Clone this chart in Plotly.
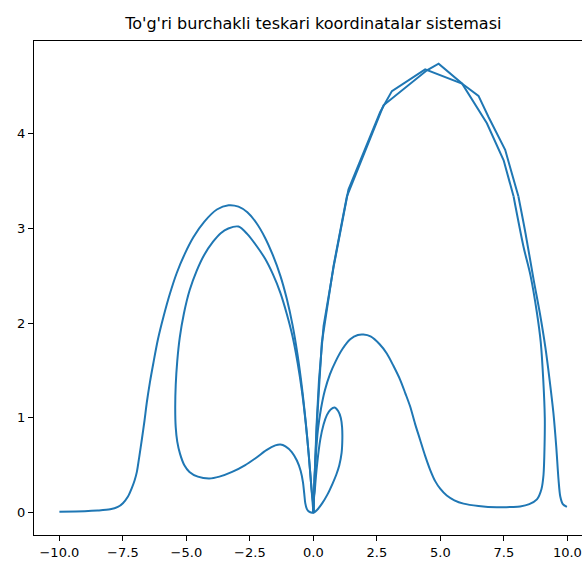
import plotly.graph_objects as go

# Curve, split into named pieces traced in drawing order.
# Smooth pieces
outer_left_x = [-10.0, -9.0, -8.5, -8.0, -7.7, -7.5, -7.3, -7.15, -7.04, -6.95, -6.85, -6.75, -6.65, -6.56, -6.44, -6.3, -6.12, -5.9, -5.65, -5.38, -5.05, -4.72, -4.3, -3.8, -3.34, -2.95, -2.6, -2.25, -1.9, -1.6, -1.3, -1.05, -0.82, -0.62, -0.45, -0.3, -0.18, -0.08, 0.0]
outer_left_y = [0.01, 0.015, 0.022, 0.035, 0.06, 0.1, 0.17, 0.26, 0.34, 0.43, 0.6, 0.78, 0.97, 1.16, 1.37, 1.58, 1.83, 2.07, 2.31, 2.53, 2.74, 2.91, 3.07, 3.2, 3.245, 3.23, 3.17, 3.06, 2.9, 2.72, 2.5, 2.26, 1.98, 1.66, 1.32, 0.95, 0.6, 0.27, 0.0]

inner_loop_x = [0.0, -0.08, -0.18, -0.3, -0.45, -0.62, -0.82, -1.05, -1.3, -1.6, -1.9, -2.25, -2.6, -2.95, -3.35, -3.65, -3.95, -4.3, -4.6, -4.87, -5.1, -5.26, -5.36, -5.42, -5.44, -5.42, -5.36, -5.25, -5.08, -4.88, -4.55, -4.1, -3.7, -3.2, -2.7, -2.25, -1.85, -1.5, -1.3, -1.1, -0.85, -0.65, -0.5, -0.41, -0.36, -0.32, -0.26, -0.17, -0.05, 0.0]
inner_loop_y = [0.0, 0.27, 0.6, 0.94, 1.28, 1.58, 1.86, 2.1, 2.32, 2.52, 2.68, 2.82, 2.94, 3.02, 3.0, 2.95, 2.86, 2.72, 2.55, 2.35, 2.1, 1.85, 1.6, 1.35, 1.1, 0.9, 0.75, 0.62, 0.5, 0.43, 0.38, 0.36, 0.38, 0.43, 0.5, 0.58, 0.66, 0.71, 0.72, 0.7, 0.64, 0.55, 0.44, 0.32, 0.2, 0.1, 0.04, 0.01, 0.0, 0.0]

small_loop_x = [0.0, 0.06, 0.15, 0.27, 0.4, 0.53, 0.68, 0.84, 0.98, 1.08, 1.13, 1.14, 1.11, 1.02, 0.9, 0.76, 0.55, 0.35, 0.15, 0.0]
small_loop_y = [0.0, 0.25, 0.52, 0.77, 0.93, 1.03, 1.09, 1.11, 1.07, 1.0, 0.9, 0.78, 0.63, 0.5, 0.4, 0.31, 0.19, 0.1, 0.03, 0.0]

middle_arc_x = [0.0, 0.04, 0.1, 0.18, 0.3, 0.45, 0.65, 0.88, 1.15, 1.45, 1.75, 1.97, 2.25, 2.6, 2.89, 3.15, 3.42, 3.62, 3.81, 4.0, 4.2, 4.4, 4.6, 4.8, 5.0, 5.25, 5.55, 5.91, 6.5, 7.22, 7.8, 8.14, 8.5, 8.8, 8.98, 9.06, 9.1, 9.11, 9.05, 8.95, 8.8, 8.55, 8.27, 7.88]
middle_arc_y = [0.0, 0.3, 0.62, 0.88, 1.1, 1.29, 1.46, 1.6, 1.73, 1.83, 1.875, 1.88, 1.86, 1.78, 1.68, 1.55, 1.4, 1.26, 1.12, 0.94, 0.77, 0.6, 0.45, 0.33, 0.25, 0.18, 0.13, 0.095, 0.07, 0.056, 0.06, 0.065, 0.09, 0.14, 0.25, 0.4, 0.7, 1.0, 1.4, 1.8, 2.11, 2.5, 2.81, 3.34]

outer_right_x = [8.07, 8.35, 8.67, 8.92, 9.13, 9.3, 9.45, 9.56, 9.65, 9.72, 9.82, 9.98]
outer_right_y = [3.34, 2.95, 2.46, 2.1, 1.75, 1.4, 1.05, 0.7, 0.35, 0.17, 0.09, 0.06]

# Coarsely sampled (angular) pieces near the top of the big arch
inner_top_x = [7.88, 7.68, 7.49, 6.83, 5.85, 4.93, 4.47, 2.76, 1.32, 1.19, 0.79, 0.33, 0.15, 0.05, 0.0]
inner_top_y = [3.34, 3.55, 3.72, 4.11, 4.53, 4.74, 4.67, 4.3, 3.34, 3.16, 2.6, 1.79, 1.0, 0.4, 0.0]

outer_top_x = [0.0, 0.05, 0.12, 0.22, 0.4, 0.8, 1.19, 1.38, 2.63, 3.09, 4.4, 5.85, 6.5, 6.89, 7.55, 8.07]
outer_top_y = [0.0, 0.4, 0.9, 1.4, 1.97, 2.6, 3.16, 3.41, 4.23, 4.45, 4.68, 4.53, 4.4, 4.18, 3.83, 3.34]

x_ticks = [-10.0, -7.5, -5.0, -2.5, 0.0, 2.5, 5.0, 7.5, 10.0]
x_tick_text = ["\u221210.0", "\u22127.5", "\u22125.0", "\u22122.5", "0.0", "2.5", "5.0", "7.5", "10.0"]
y_ticks = [0, 1, 2, 3, 4]
y_tick_text = ["0", "1", "2", "3", "4"]


def join(pieces):
    out = []
    for i, p in enumerate(pieces):
        if i:
            out.append(None)
        out.extend(p)
    return out


smooth_x = join([outer_left_x, inner_loop_x, small_loop_x, middle_arc_x, outer_right_x])
smooth_y = join([outer_left_y, inner_loop_y, small_loop_y, middle_arc_y, outer_right_y])
angular_x = join([inner_top_x, outer_top_x])
angular_y = join([inner_top_y, outer_top_y])

line_style = dict(color="#1f77b4", width=2)
fig = go.Figure()
fig.add_trace(go.Scatter(x=smooth_x, y=smooth_y, mode="lines", connectgaps=False,
                         line=dict(shape="spline", smoothing=0.8, **line_style),
                         showlegend=False, hoverinfo="skip"))
fig.add_trace(go.Scatter(x=angular_x, y=angular_y, mode="lines", connectgaps=False,
                         line=dict(shape="linear", **line_style),
                         showlegend=False, hoverinfo="skip"))

W, H = 582, 562
L, T, B = 34, 41, 26.6
fig.update_layout(
    width=W, height=H,
    margin=dict(l=L, r=0, t=T, b=B, pad=0),
    paper_bgcolor="white", plot_bgcolor="white",
    font=dict(family="DejaVu Sans", size=13, color="black"),
    title=dict(text="To'g'ri burchakli teskari koordinatalar sistemasi",
               x=0.5097, xanchor="center", xref="paper",
               y=1 - 23 / H, yanchor="middle", yref="container",
               font=dict(size=16, color="black")),
)
fig.update_xaxes(range=[-11, 10.575], showgrid=False, zeroline=False,
                 showline=True, linecolor="black", linewidth=1, mirror=True,
                 ticks="outside", ticklen=5, tickwidth=1, tickcolor="black",
                 tickvals=x_ticks, ticktext=x_tick_text)
fig.update_yaxes(range=[-0.236, 4.979], showgrid=False, zeroline=False,
                 showline=True, linecolor="black", linewidth=1, mirror=False,
                 ticks="outside", ticklen=5, tickwidth=1, tickcolor="black",
                 tickvals=y_ticks, ticktext=y_tick_text)

fig.write_html("out.html")
